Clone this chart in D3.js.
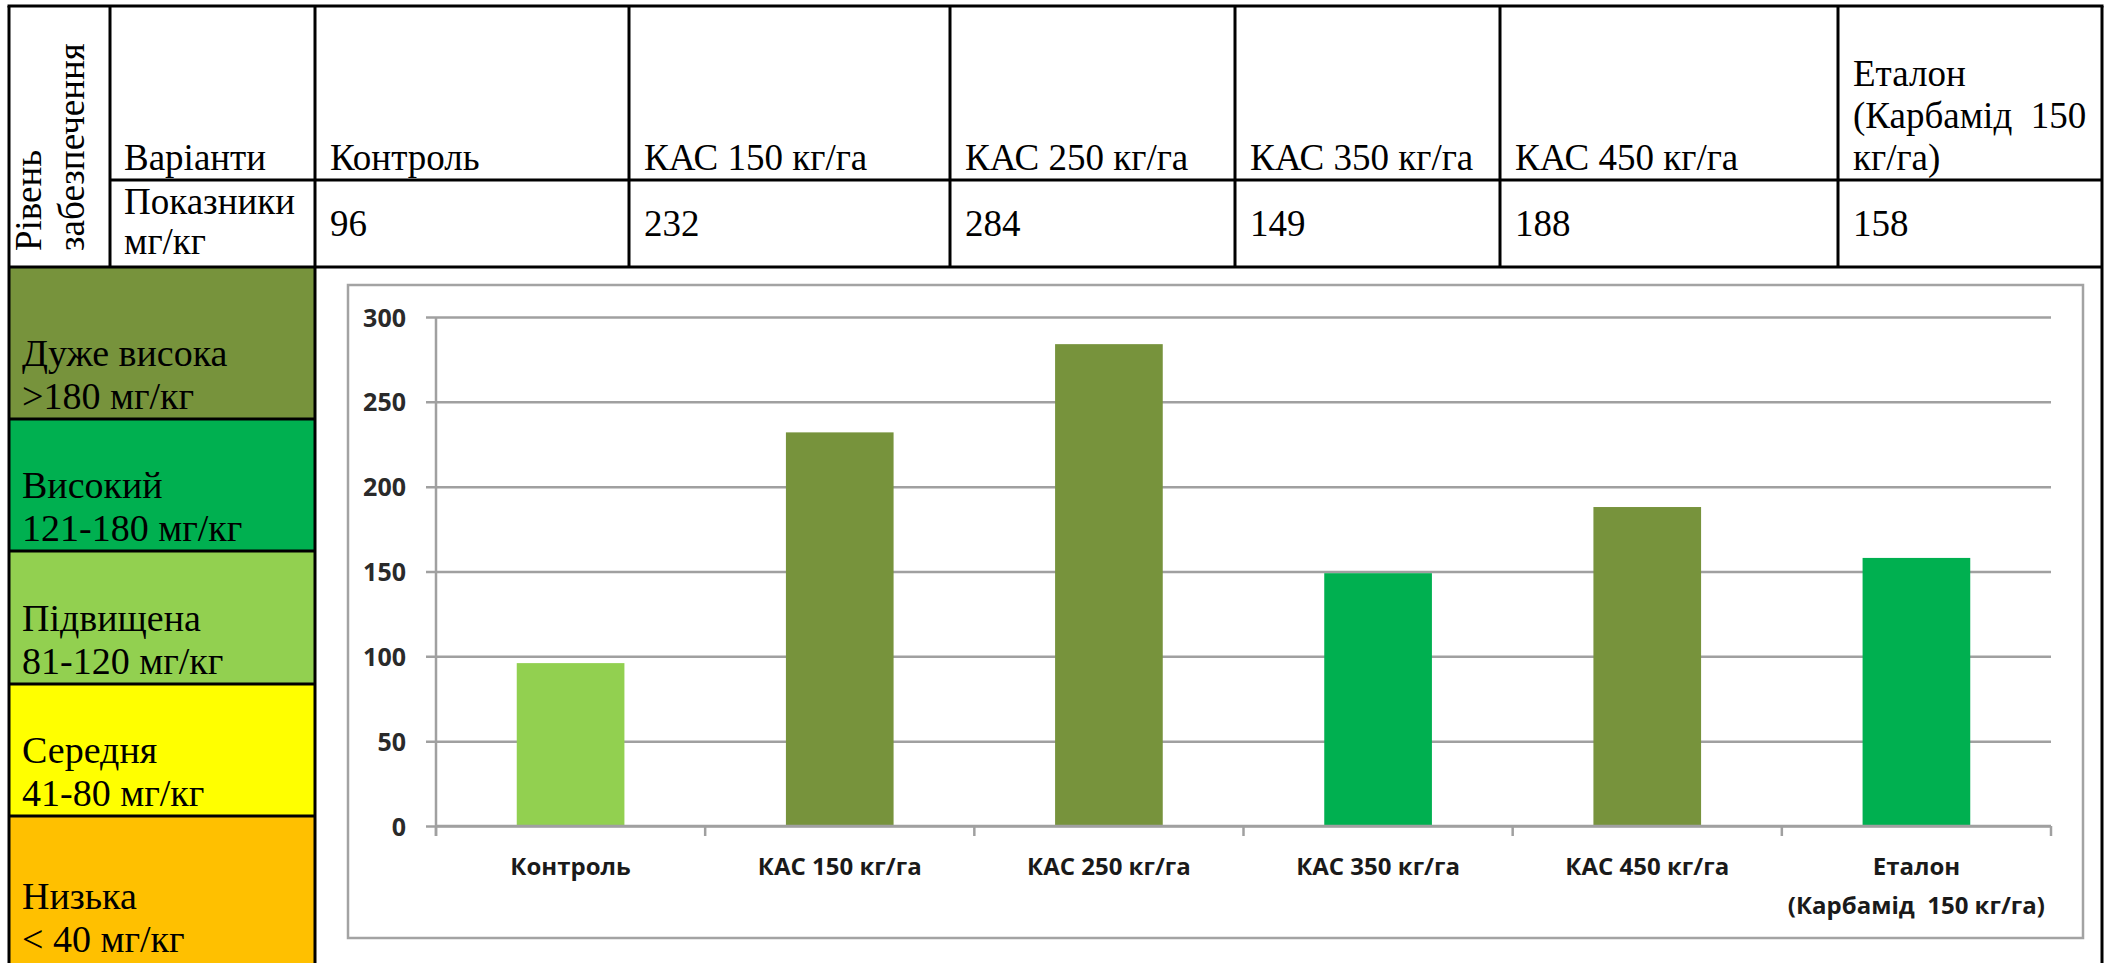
<!DOCTYPE html>
<html>
<head>
<meta charset="utf-8">
<script src="https://cdn.jsdelivr.net/npm/d3@7"></script>
<style>
  html, body { margin: 0; padding: 0; background: #fff; }
  svg { display: block; }
  text { white-space: pre; }
</style>
</head>
<body>
<svg id="fig" width="2111" height="963"></svg>
<script>
// ---- data ----
const categories = ["Контроль", "КАС 150 кг/га", "КАС 250 кг/га", "КАС 350 кг/га", "КАС 450 кг/га", "Еталон (Карбамід 150 кг/га)"];
const headerLines = [["Контроль"], ["КАС 150 кг/га"], ["КАС 250 кг/га"], ["КАС 350 кг/га"], ["КАС 450 кг/га"], ["Еталон", "(Карбамід  150", "кг/га)"]];
const axisLines = [["Контроль"], ["КАС 150 кг/га"], ["КАС 250 кг/га"], ["КАС 350 кг/га"], ["КАС 450 кг/га"], ["Еталон", "(Карбамід  150 кг/га)"]];
const values = [96, 232, 284, 149, 188, 158];

const levelNames = ["Дуже висока", "Високий", "Підвищена", "Середня", "Низька"];
const levelRanges = [">180 мг/кг", "121-180 мг/кг", "81-120 мг/кг", "41-80 мг/кг", "< 40 мг/кг"];
const levelMins = [181, 121, 81, 41, 0];
const levelColors = ["#77933C", "#00B050", "#92D050", "#FFFF00", "#FFC000"];

const yTicks = [0, 50, 100, 150, 200, 250, 300];

// colour of a value = colour of the supply level it falls into
const levelColor = v => levelColors[levelMins.findIndex(m => v >= m)];

const svg = d3.select("#fig");
const serif = "'Liberation Serif', 'Times New Roman', serif";
const sans = "'Open Sans', 'Noto Sans', sans-serif";

// ---- table geometry ----
const tLeft = 9, tRight = 2102, tTop = 6, rowLine = 180, headBottom = 267, pageBottom = 963;
const colX = [110, 315, 629, 950, 1235, 1500, 1838];   // inner column borders
const bandBottoms = [419, 551, 684, 816, 990];

// level bands (left column)
const bands = svg.append("g");
levelNames.forEach((name, i) => {
  const y0 = i === 0 ? headBottom : bandBottoms[i - 1];
  const y1 = bandBottoms[i];
  bands.append("rect").attr("x", tLeft).attr("y", y0).attr("width", colX[1] - tLeft).attr("height", y1 - y0)
    .attr("fill", levelColors[i]);
  const base = i === 4 ? 952 : y1 - 10;
  bands.append("text").attr("x", 22).attr("y", base - 43)
    .attr("font-family", serif).attr("font-size", 38).attr("fill", "#000").text(name);
  bands.append("text").attr("x", 22).attr("y", base)
    .attr("font-family", serif).attr("font-size", 38).attr("fill", "#000").text(levelRanges[i]);
});

// table rules
const rules = svg.append("g").attr("stroke", "#000").attr("stroke-width", 3).attr("fill", "none");
const hl = (x0, x1, yy) => rules.append("line").attr("x1", x0).attr("x2", x1).attr("y1", yy).attr("y2", yy);
const vl = (xx, y0, y1) => rules.append("line").attr("x1", xx).attr("x2", xx).attr("y1", y0).attr("y2", y1);
hl(tLeft - 1.5, tRight + 1.5, tTop);
hl(colX[0], tRight, rowLine);
hl(tLeft, tRight, headBottom);
bandBottoms.slice(0, 4).forEach(yy => hl(tLeft, colX[1], yy));
vl(tLeft, tTop, pageBottom);
vl(tRight, tTop, pageBottom);
vl(colX[0], tTop, headBottom);
vl(colX[1], tTop, pageBottom);
colX.slice(2).forEach(xx => vl(xx, tTop, headBottom));

// header cells
const cellText = (xx, yy, t) => svg.append("text").attr("x", xx).attr("y", yy)
  .attr("font-family", serif).attr("font-size", 37).attr("fill", "#000").text(t);

svg.append("text").attr("transform", "translate(41,251) rotate(-90)")
  .attr("font-family", serif).attr("font-size", 37).text("Рівень");
svg.append("text").attr("transform", "translate(84,251) rotate(-90)")
  .attr("font-family", serif).attr("font-size", 37).text("забезпечення");

cellText(124, 170, "Варіанти");
cellText(124, 214, "Показники");
cellText(124, 254, "мг/кг");

headerLines.forEach((lines, i) => {
  const xx = colX[i + 1] + 15;
  const n = lines.length;
  lines.forEach((t, j) => cellText(xx, 170 - (n - 1 - j) * 42, t));
  cellText(xx, 236, String(values[i]));
});

// ---- bar chart ----
const chart = svg.append("g");
chart.append("rect").attr("x", 348).attr("y", 285).attr("width", 2083 - 348).attr("height", 938 - 285)
  .attr("fill", "#fff").attr("stroke", "#a3a3a3").attr("stroke-width", 2.5);

const x = d3.scaleBand().domain(categories).range([436, 2051]).paddingInner(0.6).paddingOuter(0.3);
const y = d3.scaleLinear().domain([0, 300]).range([826, 317]);

// horizontal gridlines + y axis
const yAxis = d3.axisLeft(y).tickValues(yTicks).tickSize(-(2051 - 436)).tickSizeOuter(0).tickPadding(30);
const gy = chart.append("g").attr("transform", "translate(436,0)").call(yAxis);
gy.select(".domain").attr("stroke", "#a0a0a0").attr("stroke-width", 2.5)
  .attr("d", `M0,${y(300)}V${y(0) + 10}`);
gy.selectAll(".tick line").attr("stroke", "#a0a0a0").attr("stroke-width", 2.5).attr("x1", -10);
gy.selectAll(".tick text").attr("font-family", sans).attr("font-weight", 700).attr("font-size", 25)
  .attr("fill", "#2a2a2a").attr("dy", "0.36em");

// bars
chart.append("g").selectAll("rect").data(values).join("rect")
  .attr("x", (d, i) => x(categories[i]))
  .attr("y", d => y(d))
  .attr("width", x.bandwidth())
  .attr("height", d => y(0) - y(d))
  .attr("fill", d => levelColor(d));

// x axis with ticks between categories
const step = x.step();
const gx = chart.append("g").attr("stroke", "#a0a0a0").attr("stroke-width", 2.5);
gx.append("line").attr("x1", 436).attr("x2", 2051).attr("y1", y(0)).attr("y2", y(0));
d3.range(categories.length + 1).forEach(k => {
  const xx = 436 + k * step;
  gx.append("line").attr("x1", xx).attr("x2", xx).attr("y1", y(0)).attr("y2", y(0) + 10);
});

axisLines.forEach((lines, i) => {
  const cx = x(categories[i]) + x.bandwidth() / 2;
  lines.forEach((t, j) => {
    chart.append("text").attr("x", cx).attr("y", 866 + j * 39).attr("dy", "0.36em")
      .attr("text-anchor", "middle").attr("font-family", sans).attr("font-weight", 700)
      .attr("font-size", 24).attr("fill", "#1a1a1a").text(t);
  });
});
</script>
</body>
</html>
